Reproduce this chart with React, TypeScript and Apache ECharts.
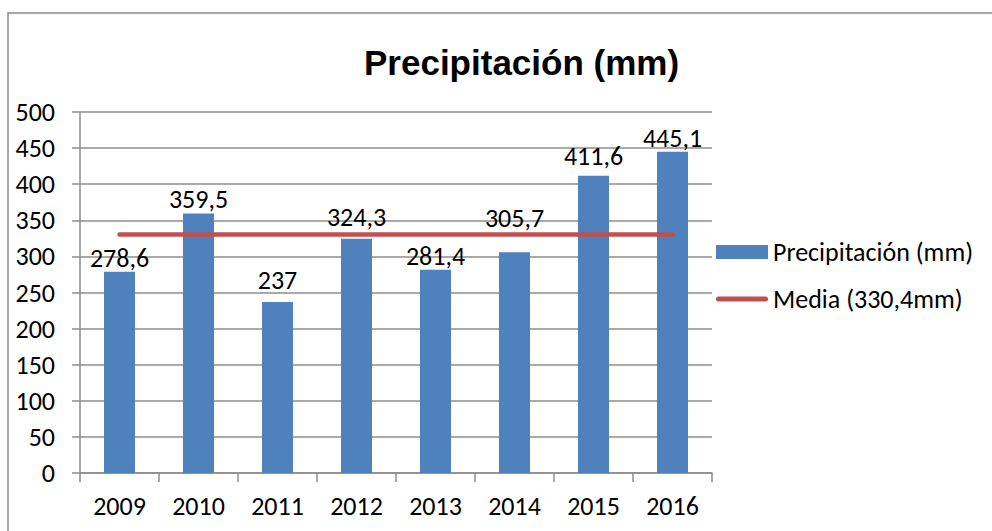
import React, { useEffect, useRef } from "react";
import * as echarts from "echarts";

const years = ["2009", "2010", "2011", "2012", "2013", "2014", "2015", "2016"];
const precipitation = [278.6, 359.5, 237, 324.3, 281.4, 305.7, 411.6, 445.1];
const mediaValues = [330.4, 330.4, 330.4, 330.4, 330.4, 330.4, 330.4, 330.4];
const yTicks = [0, 50, 100, 150, 200, 250, 300, 350, 400, 450, 500];
const titleText = "Precipitación (mm)";
const barName = "Precipitación (mm)";
const lineName = "Media (330,4mm)";

const FONT = "Carlito, Calibri, Lato, sans-serif";
const GRAY = "#8c8c8c";

// extra label lift where Excel's labels were moved by hand
const labelLift: Record<string, number> = { "2011": 8, "2012": 8, "2014": 20, "2015": 6 };

export default function App() {
  const ref = useRef<HTMLDivElement>(null);
  useEffect(() => {
    if (!ref.current) return;
    const chart = echarts.init(ref.current, undefined, { renderer: "svg" });
    const fmt = (v: number) => String(v).replace(".", ",");
    chart.setOption({
      animation: false,
      backgroundColor: "#ffffff",
      title: {
        text: titleText,
        left: 364,
        top: 45,
        padding: 0,
        textStyle: {
          fontFamily: "Liberation Sans, Arial, sans-serif",
          fontWeight: "bold",
          fontSize: 35,
          color: "#000",
        },
      },
      graphic: [
        {
          type: "rect",
          silent: true,
          shape: { x: 8, y: 13, width: 1000, height: 600 },
          style: { fill: "none", stroke: GRAY, lineWidth: 1.5 },
          z: -1,
        },
      ],
      legend: {
        orient: "vertical",
        left: 716,
        top: 238,
        padding: 0,
        itemWidth: 52,
        itemHeight: 14,
        itemGap: 19,
        textStyle: { fontFamily: FONT, fontSize: 26, color: "#000", lineHeight: 28 },
        data: [
          { name: barName, icon: "rect" },
          {
            name: lineName,
            icon: "path://M2.5,0 H49.5 A2.5,2.5 0 0 1 49.5,5 H2.5 A2.5,2.5 0 0 1 2.5,0 Z",
          },
        ],
      },
      grid: { left: 80, right: 280, top: 112, bottom: 58, containLabel: false },
      xAxis: {
        type: "category",
        data: years,
        boundaryGap: true,
        axisLine: { show: true, lineStyle: { color: GRAY, width: 1.5 } },
        axisTick: { show: true, length: 9, lineStyle: { color: GRAY, width: 1.5 } },
        axisLabel: { fontFamily: FONT, fontSize: 26, color: "#000", margin: 20 },
      },
      yAxis: {
        type: "value",
        min: yTicks[0],
        max: yTicks[yTicks.length - 1],
        interval: 50,
        axisLine: { show: true, lineStyle: { color: GRAY, width: 1.5 } },
        axisTick: { show: true, length: 8, lineStyle: { color: GRAY, width: 1.5 } },
        splitLine: { show: true, lineStyle: { color: GRAY, width: 1.5 } },
        axisLabel: { fontFamily: FONT, fontSize: 26, color: "#000", margin: 25 },
      },
      series: [
        {
          name: barName,
          type: "bar",
          barWidth: 31,
          itemStyle: { color: "#4f81bd" },
          data: precipitation.map((v, i) => ({
            value: v,
            label: { distance: 1 + (labelLift[years[i]] || 0) },
          })),
          label: {
            show: true,
            position: "top",
            distance: 1,
            fontFamily: FONT,
            fontSize: 26,
            color: "#000",
            formatter: (p: any) => fmt(p.value),
          },
          z: 2,
        },
        {
          name: lineName,
          type: "line",
          data: mediaValues,
          symbol: "none",
          lineStyle: { color: "#c0504d", width: 4.5, cap: "round" },
          itemStyle: { color: "#c0504d" },
          z: 3,
        },
      ],
    });
    return () => chart.dispose();
  }, []);
  return (
    <div
      ref={ref}
      style={{ position: "fixed", left: 0, top: 0, width: 992, height: 531 }}
    />
  );
}
